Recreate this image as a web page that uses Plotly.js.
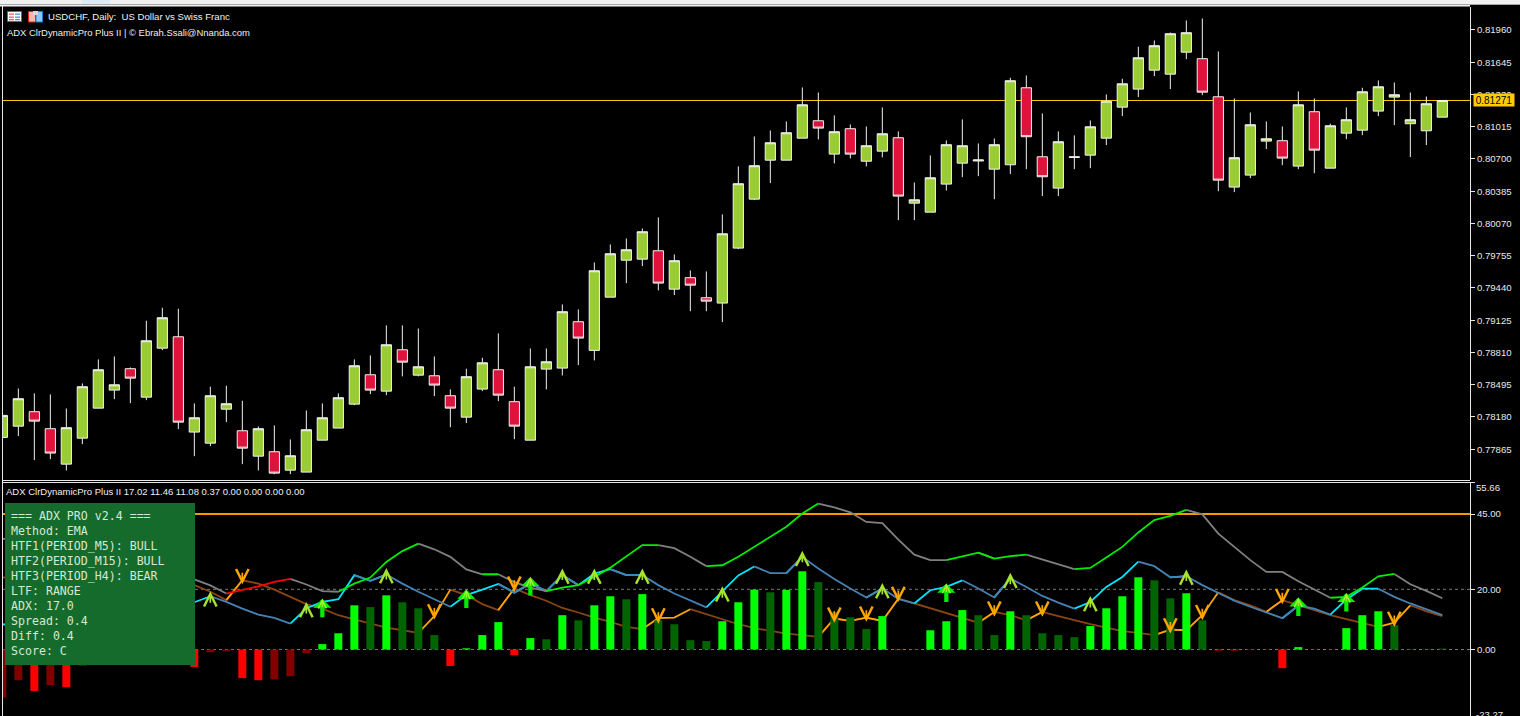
<!DOCTYPE html>
<html><head><meta charset="utf-8">
<script src="https://cdn.plot.ly/plotly-3.0.1.min.js"></script>
<style>html,body{margin:0;padding:0;background:#000;overflow:hidden}#c{width:1520px;height:716px}</style>
</head><body><div id="c"></div>
<script>
// ---------- price data (USDCHF, Daily) ----------
const opens=[0.77980,0.78090,0.78231,0.78065,0.77719,0.77973,0.78266,0.78442,0.78651,0.78373,0.78852,0.78963,0.78032,0.77924,0.78256,0.78045,0.77797,0.77840,0.77660,0.77641,0.77953,0.78071,0.78305,0.78592,0.78432,0.78836,0.78588,0.78582,0.78387,0.78178,0.78452,0.78641,0.78329,0.77953,0.78647,0.78657,0.79110,0.78830,0.79350,0.79711,0.79721,0.79803,0.79428,0.79540,0.79344,0.79292,0.79829,0.80307,0.80688,0.80688,0.80903,0.81073,0.80747,0.80995,0.80678,0.80776,0.80907,0.80268,0.80180,0.80454,0.80659,0.80680,0.80600,0.80643,0.81395,0.80721,0.80415,0.80715,0.80737,0.80903,0.81206,0.81382,0.81567,0.81528,0.81743,0.81679,0.81307,0.80425,0.80542,0.80874,0.80878,0.80630,0.81161,0.80610,0.80952,0.80981,0.81167,0.81304,0.81044,0.80975,0.81108];
const highs=[0.78195,0.78458,0.78410,0.78400,0.78263,0.78507,0.78742,0.78771,0.78663,0.79120,0.79247,0.79237,0.78312,0.78475,0.78485,0.78338,0.78087,0.78097,0.77960,0.78243,0.78312,0.78410,0.78742,0.78781,0.79074,0.79074,0.79044,0.78771,0.78449,0.78651,0.78758,0.78996,0.78475,0.78849,0.78849,0.79279,0.79230,0.79689,0.79865,0.79923,0.80021,0.80129,0.79767,0.79611,0.79601,0.80158,0.80627,0.80920,0.80978,0.81066,0.81398,0.81349,0.81125,0.81037,0.81017,0.81203,0.80969,0.80470,0.80734,0.80881,0.81086,0.80851,0.80900,0.81493,0.81515,0.81144,0.80969,0.80930,0.81076,0.81330,0.81483,0.81796,0.81857,0.81935,0.82053,0.82072,0.81750,0.81291,0.81154,0.81066,0.81017,0.81359,0.81291,0.81044,0.81203,0.81395,0.81467,0.81447,0.81349,0.81310,0.81271];
const lows=[0.77980,0.77993,0.77758,0.77768,0.77657,0.77914,0.78266,0.78354,0.78315,0.78344,0.78832,0.78061,0.77797,0.77895,0.78129,0.77719,0.77657,0.77621,0.77621,0.77641,0.77953,0.78071,0.78295,0.78403,0.78393,0.78576,0.78576,0.78383,0.78080,0.78120,0.78432,0.78334,0.77963,0.77953,0.78449,0.78585,0.78686,0.78732,0.79350,0.79487,0.79653,0.79416,0.79370,0.79213,0.79213,0.79106,0.79819,0.80298,0.80464,0.80688,0.80903,0.80890,0.80656,0.80705,0.80627,0.80715,0.80102,0.80102,0.80180,0.80392,0.80522,0.80532,0.80307,0.80552,0.80600,0.80337,0.80337,0.80600,0.80610,0.80835,0.81118,0.81304,0.81509,0.81382,0.81675,0.81323,0.80385,0.80376,0.80512,0.80796,0.80639,0.80600,0.80561,0.80610,0.80893,0.80932,0.81118,0.81030,0.80718,0.80835,0.81108];
const closes=[0.78195,0.78358,0.78139,0.77827,0.78075,0.78475,0.78641,0.78494,0.78559,0.78924,0.79149,0.78129,0.78172,0.78387,0.78309,0.77875,0.78065,0.77631,0.77801,0.78055,0.78172,0.78368,0.78680,0.78442,0.78885,0.78715,0.78670,0.78491,0.78266,0.78573,0.78709,0.78393,0.78090,0.78670,0.78719,0.79208,0.78950,0.79608,0.79774,0.79813,0.79989,0.79487,0.79706,0.79467,0.79311,0.79969,0.80458,0.80634,0.80858,0.80956,0.81229,0.81001,0.80966,0.80747,0.80829,0.80946,0.80337,0.80301,0.80516,0.80839,0.80829,0.80690,0.80839,0.81464,0.80917,0.80526,0.80868,0.80720,0.81014,0.81264,0.81434,0.81688,0.81806,0.81923,0.81933,0.81352,0.80493,0.80712,0.81034,0.80897,0.80708,0.81229,0.80786,0.81024,0.81083,0.81356,0.81405,0.81327,0.81083,0.81239,0.81271];
const currentPrice=0.81271;
const priceTicks=[0.81960,0.81645,0.81330,0.81015,0.80700,0.80385,0.80070,0.79755,0.79440,0.79125,0.78810,0.78495,0.78180,0.77865];
const priceRange=[0.77564,0.82184];

// ---------- indicator data (null = hidden behind the info panel) ----------
const N=null;
const adxLine=[36.9,35.8,N,N,N,N,N,N,N,N,N,N,23.3,21.3,18.6,19.7,21.0,22.5,23.5,21.6,19.4,19.2,21.9,23.9,29.1,32.7,35.2,33.3,30.8,26.6,25.0,25.0,22.4,20.6,19.4,20.6,21.4,24.1,27.2,31.0,34.7,34.7,33.7,30.8,27.7,28.0,30.8,34.1,37.4,40.8,45.2,48.5,47.2,45.6,42.4,42.0,36.5,31.5,29.7,29.7,30.9,32.2,30.2,31.0,31.5,29.9,28.4,26.7,27.1,30.6,34.1,38.9,43.0,44.4,46.4,44.9,38.5,34.1,29.7,25.8,25.8,22.7,20.0,17.2,17.5,20.6,24.3,25.1,21.7,19.5,17.02];
const plusDI=[8.3,8.6,N,N,N,N,N,N,N,N,N,N,15.7,17.7,15.8,13.6,11.6,10.5,8.6,13.7,15.8,16.7,24.7,22.8,24.9,21.9,19.2,16.6,14.2,18.1,19.9,21.8,18.9,21.9,19.4,24.7,21.4,25.2,26.7,24.7,24.7,21.4,18.6,16.4,14.0,19.2,24.6,27.6,25.4,25.4,30.8,26.9,23.4,20.3,17.3,20.3,16.8,15.3,19.7,20.8,23.0,20.3,17.3,23.6,20.8,17.8,15.6,13.6,15.8,20.8,24.1,29.2,27.7,24.0,24.4,21.4,18.9,16.2,14.2,12.3,10.4,14.6,13.6,11.6,16.6,20.2,20.2,17.5,15.3,13.3,11.46];
const minusDI=[24.0,23.6,N,N,N,N,N,N,N,N,N,N,21.4,19.2,16.4,23.0,21.9,19.9,17.5,15.1,13.6,11.4,10.0,8.6,7.3,6.4,5.5,11.1,19.9,18.1,15.1,13.1,20.3,18.1,16.2,13.8,12.3,10.6,9.2,7.5,6.8,10.4,10.6,13.4,11.7,9.9,8.4,7.1,6.2,5.3,4.8,4.2,10.3,9.5,10.6,9.5,16.9,15.3,13.6,12.2,10.5,8.9,12.5,11.4,9.7,12.5,11.1,9.7,8.4,7.3,6.1,5.5,4.8,6.6,6.4,11.4,19.0,16.4,14.7,12.5,16.4,14.7,13.1,11.4,10.1,8.9,7.5,8.9,14.7,12.7,11.08];
const histogram=[-16,-10.2,-13.8,-11.8,-12.5,-5.4,N,N,N,N,N,N,-5.8,-0.9,-0.6,-9.5,-10.2,-9.9,-8.9,-1.2,1.8,5.4,14.7,14.1,18,15.7,13.7,4.8,-5.5,0.4,4.8,9.1,-1.9,3.8,3.4,11.4,9.7,14.7,17.7,16.7,18.4,9.7,8.4,3.1,2.8,9.4,15.7,19.9,19,19.8,26,22.4,12.4,10.7,6.8,11.1,-0.2,-0.1,6.4,9.4,13.1,11.4,4.8,12.7,11.4,5.4,4.8,4.1,7.8,13.7,17.7,24,23,17,18.7,9.7,-0.3,-0.3,-0.2,-0.1,-6.2,0.8,-0.1,-0.1,7.1,11.4,12.7,8.1,0.2,0.2,0.3];
const histTone=["D","D","B","D","B","D","D","D","D","D","D","D","B","D","D","B","B","D","D","D","B","B","B","D","B","D","D","D","B","B","B","B","B","B","D","B","D","B","B","D","B","D","D","D","D","B","B","B","D","B","B","D","D","D","D","B","B","D","B","B","B","D","D","B","D","D","D","D","B","B","B","B","D","D","B","D","B","B","D","D","B","B","D","D","B","B","B","D","D","D","D"];
const adxRuns=[[0,'n'],[14,'r'],[18,'n'],[21,'g'],[26,'n'],[30,'g'],[31,'n'],[34,'g'],[41,'n'],[44,'g'],[51,'n'],[59,'g'],[61,'n'],[62,'g'],[64,'n'],[67,'g'],[74,'n'],[83,'g'],[87,'n']];
const plusRuns=[[0,'c'],[13,'s'],[18,'c'],[22,'s'],[23,'c'],[24,'s'],[28,'c'],[31,'s'],[32,'c'],[33,'s'],[34,'c'],[35,'s'],[36,'c'],[38,'s'],[39,'c'],[40,'s'],[44,'c'],[47,'s'],[49,'c'],[50,'s'],[54,'c'],[55,'s'],[57,'c'],[60,'s'],[62,'c'],[63,'s'],[67,'c'],[71,'s'],[73,'c'],[74,'s'],[80,'c'],[81,'s'],[83,'c'],[86,'s']];
const minusRuns=[[0,'b'],[14,'o'],[15,'b'],[26,'o'],[28,'b'],[31,'o'],[32,'b'],[40,'o'],[43,'b'],[51,'o'],[52,'b'],[53,'o'],[54,'b'],[55,'o'],[56,'b'],[61,'o'],[62,'b'],[64,'o'],[65,'b'],[72,'o'],[73,'b'],[74,'o'],[76,'b'],[79,'o'],[80,'b'],[86,'o'],[88,'b']];
const smallUpIdx=[13,19,24,35,37,40,45,50,55,63,68,74];
const smallUpVal=[19.4,15.8,27.1,26.9,26.9,26.9,21.0,32.8,22.1,25.5,17.8,26.6];
const bigUpIdx=[20,29,33,59,81,84];
const bigUpVal=[16.9,19.9,24.1,21.9,17.3,18.8];
const downIdx=[15,27,32,41,52,54,56,62,65,73,75,80,87];
const downVal=[21.7,10.0,19.2,8.6,8.9,9.2,15.8,10.9,10.9,5.3,9.7,15.0,7.5];
const levels=[0,20];
const upperLevel=45;
const subTicks=[55.66,45,20,0];
const subTickText=['','45.00','20.00','0.00'];
const subRange=[-22.09,55.66];
const panelLines=["=== ADX PRO v2.4 ===","Method: EMA","HTF1(PERIOD_M5): BULL","HTF2(PERIOD_M15): BULL","HTF3(PERIOD_H4): BEAR","LTF: RANGE","ADX: 17.0","Spread: 0.4","Diff: 0.4","Score: C"];
const titleMain="USDCHF, Daily:  US Dollar vs Swiss Franc";
const titleInd="ADX ClrDynamicPro Plus II | © Ebrah.Ssali@Nnanda.com";
const titleSub="ADX ClrDynamicPro Plus II 17.02 11.46 11.08 0.37 0.00 0.00 0.00 0.00";

// ---------- build ----------
const W=1520,H=716;
const px=x=>x/W, py=y=>1-y/H;
const idx=opens.map((_,i)=>i);
const xRange=[0.042,91.73];
const AXC='#E8E8E8', FONT='"Liberation Sans", Arial, sans-serif';
const palette={n:'#808080',r:'#FF0000',g:'#00EE00',c:'#00E5FF',s:'#4682B4',o:'#FFA500',b:'#8B4513'};

function segTraces(vals,runs){
  const code=[];
  runs.forEach((r,k)=>{const end=k+1<runs.length?runs[k+1][0]:vals.length;for(let i=r[0];i<end;i++)code[i]=r[1];});
  return [...new Set(runs.map(r=>r[1]))].map(c=>({
    type:'scatter',mode:'lines',xaxis:'x2',yaxis:'y2',x:idx,
    y:vals.map((v,i)=>(code[i]===c||code[i-1]===c)?v:null),
    line:{color:palette[c],width:1.8},connectgaps:false,hoverinfo:'skip',showlegend:false}));
}
const barColors=histogram.map((v,i)=>{const t=histTone[i];return v>=0?(t==='B'?'#00FF00':'#006400'):(t==='B'?'#FF0000':'#800000');});

const traces=[
 {type:'candlestick',xaxis:'x',yaxis:'y',x:idx,open:opens,high:highs,low:lows,close:closes,
  increasing:{fillcolor:'#9ACD32',line:{color:'#F2F2F2',width:1}},
  decreasing:{fillcolor:'#DC143C',line:{color:'#F2F2F2',width:1}},
  whiskerwidth:0,hoverinfo:'skip',showlegend:false},
 ...segTraces(minusDI,minusRuns),
 ...segTraces(plusDI,plusRuns),
 ...segTraces(adxLine,adxRuns),
 {type:'bar',xaxis:'x2',yaxis:'y3',x:idx,y:histogram,width:0.5,marker:{color:barColors,line:{width:0}},hoverinfo:'skip',showlegend:false}
];

const hLine=(yref,y,color,width,dash)=>({type:'line',layer:'below',xref:'paper',yref,x0:px(3),x1:px(1470),y0:y,y1:y,line:{color,width,dash:dash||'solid'}});
const rect=(x0,y0,x1,y1,fill,line,layer)=>({type:'rect',xref:'paper',yref:'paper',x0:px(x0),x1:px(x1),y0:py(y0),y1:py(y1),fillcolor:fill,line:{width:line?1:0,color:line||fill},layer:layer||'above'});
const shapes=[
 hLine('y',currentPrice,'#FFCC00',1),
 ...levels.map(v=>hLine('y2',v,'#7A7A7A',1,'3px,3px')),
 hLine('y2',upperLevel,'#F59B00',2),
 // window chrome
 rect(0,0,1520,4,'#F0F0F0'),
 rect(82,0,110,3.5,'#DCE8F5'),
 rect(0,4,1520,5,'#A8A8A8'),
 rect(0,5,1470,6.5,'#F0F0F0'),
 rect(2,6,3,716,AXC),
 rect(3,480,1470,481,AXC),
 rect(3,482,1470,483,AXC),
 // icons
 rect(7.5,11.5,21.5,21.5,'#FFFFFF','#2F74C8'),
 rect(9,13.5,14,14.8,'#F06060'),rect(9,16.5,14,17.8,'#F06060'),rect(9,19,14,20.3,'#F06060'),
 rect(15,13.5,20,14.8,'#5090E0'),rect(15,16.5,20,17.8,'#5090E0'),rect(15,19,20,20.3,'#5090E0'),
 rect(28.5,11.5,35.5,22,'#FFB8A8','#E02020'),
 rect(36,11.5,42.5,22,'#8CC8F4','#1E78D0'),
 rect(33,11,38,15,'#D8D8D8'),
 // info panel
 rect(5,503,195,665,'#156B2B'),
];

const ann=[];
const label=(text,x,y,size,color,family)=>({text,xref:'paper',yref:'paper',x:px(x),y:py(y),xanchor:'left',yanchor:'middle',showarrow:false,font:{size,color,family:family||FONT},borderpad:0,borderwidth:0});
function arrows(ids,vals,color,width,head,size,ay){
  ids.forEach((i,k)=>ann.push({xref:'x2',yref:'y2',x:i,y:vals[k],text:'',showarrow:true,axref:'pixel',ayref:'pixel',ax:0,ay,arrowcolor:color,arrowwidth:width,arrowhead:head,arrowsize:size,standoff:0,startstandoff:0}));
}
arrows(smallUpIdx,smallUpVal,'#A6E22E',1.7,5,1.45,13);
arrows(bigUpIdx,bigUpVal,'#00F000',4.2,1,0.72,20);
arrows(bigUpIdx,bigUpVal,'#A6F02E',1.2,5,1.3,10);
arrows(downIdx,downVal,'#FFA500',1.7,5,1.45,-13);
ann.push(label(titleMain,48,17,9.6,'#F0F0F0'));
ann.push(label(titleInd,7,32.5,9.45,'#F0F0F0'));
ann.push(label(titleSub,6,491,9.5,'#F0F0F0'));
panelLines.forEach((t,i)=>ann.push(label(t,11,516+15*i,11.6,'#D5E8D5','"DejaVu Sans Mono", monospace')));
ann.push(label('55.66',1475.5,488,9.6,AXC));
ann.push(label('-23.27',1475.5,714,9.6,AXC));
ann.push({text:'0.81271',xref:'paper',yref:'y',x:px(1473),y:currentPrice,xanchor:'left',yanchor:'middle',showarrow:false,bgcolor:'#FFCC00',font:{size:10,color:'#000',family:FONT},borderpad:1,width:38,height:10});

const layout={
 width:W,height:H,autosize:false,margin:{l:0,r:0,t:0,b:0,pad:0},
 paper_bgcolor:'#000',plot_bgcolor:'#000',showlegend:false,hovermode:false,dragmode:false,
 font:{family:FONT,size:9.6,color:AXC},
 boxgap:0.36,boxgroupgap:0,bargap:0.5,
 xaxis:{domain:[px(3),px(1470)],range:xRange,anchor:'y',visible:false,rangeslider:{visible:false},fixedrange:true},
 yaxis:{domain:[py(480),py(7)],range:priceRange,anchor:'x',side:'right',showgrid:false,zeroline:false,showline:true,linecolor:AXC,linewidth:1,
        tickmode:'array',tickvals:priceTicks,ticktext:priceTicks.map(v=>v.toFixed(5)),ticks:'outside',ticklen:4,tickcolor:AXC,tickwidth:1,tickfont:{size:9.6,color:AXC,family:FONT},fixedrange:true},
 xaxis2:{domain:[px(3),px(1470)],range:xRange,anchor:'y2',visible:false,fixedrange:true},
 yaxis2:{domain:[0,py(482)],range:subRange,anchor:'x2',side:'right',showgrid:false,zeroline:false,showline:true,linecolor:AXC,linewidth:1,
        tickmode:'array',tickvals:subTicks,ticktext:subTickText,ticks:'outside',ticklen:4,tickcolor:AXC,tickwidth:1,tickfont:{size:9.6,color:AXC,family:FONT},fixedrange:true},
 yaxis3:{overlaying:'y2',range:subRange,anchor:'x2',visible:false,fixedrange:true,zeroline:false,showgrid:false},
 shapes,annotations:ann
};
Plotly.newPlot('c',traces,layout,{displayModeBar:false,staticPlot:true,responsive:false});
</script></body></html>
